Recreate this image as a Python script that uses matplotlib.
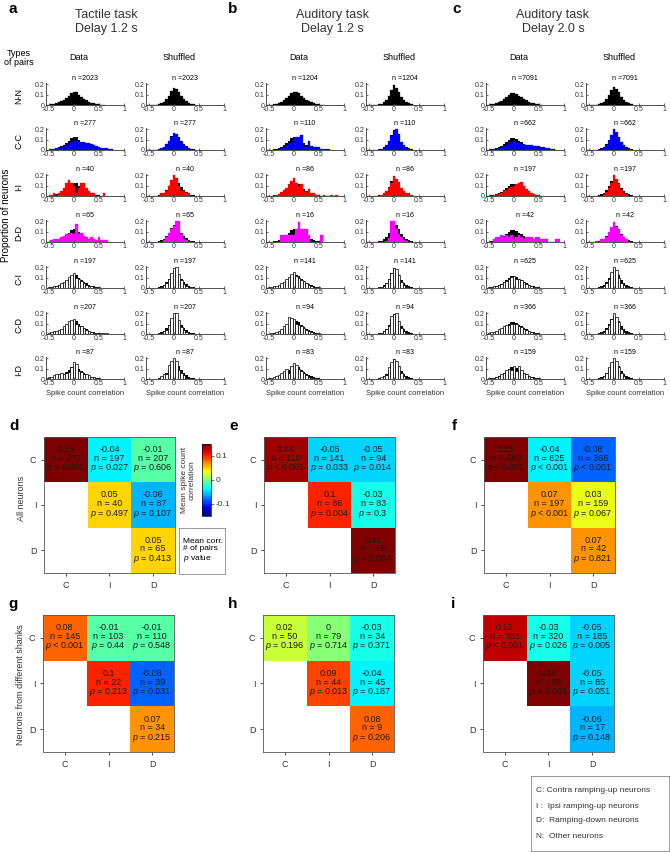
import numpy as np
import matplotlib
matplotlib.use('Agg')
import matplotlib.pyplot as plt
from matplotlib.colors import LinearSegmentedColormap

plt.rcParams['font.family'] = ['Liberation Sans', 'DejaVu Sans']
plt.rcParams['mathtext.fontset'] = 'custom'
plt.rcParams['mathtext.it'] = 'Liberation Sans:italic'
plt.rcParams['mathtext.rm'] = 'Liberation Sans'

# ---- data -------------------------------------------------------------
# histogram bins (width 0.05), first entry of every list = bin centred at -0.55
bins = np.linspace(-0.55, 1.0, 32)
pair_types = ['N-N', 'C-C', 'I-I', 'D-D', 'C-I', 'C-D', 'I-D']
pair_colors = ['k', '#0000ff', '#ff0000', '#ff00ff', 'w', 'w', 'w']

# proportion of pairs in % (rows = pair_types)
tactile_data = [
    [0, .3, .5, 1, 1.5, 2.5, 3.5, 5, 7, 9, 11, 12.5, 12, 10, 8, 6, 4.5, 3, 2, 1.5, 1, .5, .3, .2],
    [0, .3, .5, 1, 1.5, 2, 3, 4, 5, 6.5, 8, 9, 9, 7.5, 7.5, 7.5, 7, 6.5, 6, 5, 4, 3, 2, 1.5, 1.5, 1, .5],
    [0, 0, 1, 2.5, 0, 2.5, 5, 7.5, 12.5, 15, 12.5, 10, 2.5, 7.5, 12.5, 12.5, 7.5, 5, 2.5, 2.5, 0, 0, 0, 2.5],
    [0, 0, 1.5, 3, 3, 3, 4.5, 6, 7.5, 7.5, 9, 7.5, 17, 7.5, 9, 6, 4.5, 3, 4.5, 3, 1.5, 4.5, 1.5, 1.5, 1.5],
    [0, .5, 1, 1.5, 2, 3, 4.5, 6, 8, 10.5, 12.5, 14, 10, 9, 7, 5, 3, 2, 1.5, 1, .5, .5, .3, .3],
    [0, 1, 2, 2.5, 3, 4, 5, 7.5, 10, 12, 13.5, 14.5, 10, 7.5, 8, 6, 4, 2.5, 1.5, 1, 1, .5, .5, .5, .5],
    [1, 2, 2, 3.5, 4.5, 4.5, 5.5, 4.5, 6, 7, 11.5, 16, 14, 8, 6.5, 5, 4.5, 3.5, 2, 2, 1, 1],
]
tactile_shuffled = [
    [0, 0, 0, 0, 0, .5, 1.5, 3, 5.5, 9, 13, 16, 15, 12, 8.5, 6, 3.5, 2, 1, .5],
    [0, 0, 0, 0, 0, .5, 1.5, 3, 5.5, 9, 12, 16, 15, 11, 8, 5, 3, 1.5, .5],
    [0, 0, 0, 0, 0, 0, 2.5, 2.5, 5, 10, 15, 20, 17.5, 10, 5, 5, 2.5, 2.5],
    [0, 0, 0, 0, 0, 0, 0, 1.5, 4.5, 9, 12, 15, 20, 20, 7.5, 3, 1.5],
    [0, 0, 0, 0, 0, 0, 1, 2.5, 5, 9, 14, 19, 20, 13, 8, 4, 2, 1, .5],
    [0, 0, 0, 0, 0, .5, 1, 3, 4, 9, 15, 20, 20, 13, 7, 3.5, 1.5, .5],
    [0, 0, 0, 0, 0, 1, 2.5, 4.5, 4.5, 13, 17, 20, 17, 9, 6, 3.5, 1, .5],
]
tactile_n = [2023, 277, 40, 65, 197, 207, 87]

aud12_data = [
    [0, 0, .3, .5, 1, 2, 3, 4.5, 6.5, 9, 11, 12, 12, 11, 9, 7, 5, 3.5, 2.5, 1.5, 1, .5, .3, .2],
    [0, 0, 0, 0, 0, 1, 2, 3, 4.5, 6.5, 7, 11, 12, 12, 14, 3, 3, 9, 3.5, 3, 3, 3, 1, 1, 1, 1],
    [0, 0, 0, 0, 1, 2, 3.5, 6, 8, 11, 14, 17, 12, 9, 11, 5, 3.5, 7, 2.5, 2.5, 1, 1, 0, 1, 0, 0, 1, 0, 1],
    [0, 0, 0, 0, 0, 0, 6.25, 6.25, 6.25, 6.25, 6.25, 6.25, 12.5, 18.75, 12.5, 12.5, 12.5, 6.25, 0, 0, 0, 0, 6.25],
    [0, .5, 1, 1.5, 2, 3, 4.5, 6, 8.5, 10.5, 13, 15, 11, 10, 8, 6.5, 4.5, 3, 1.5, 1, .5, .5],
    [0, 0, .5, 1, 1.5, 3, 4.5, 7.5, 10, 16, 15, 14, 10, 9, 8, 5.5, 4, 2.5, 2, 1, .5, .5],
    [0, 1, 1, 1.5, 2.5, 4, 5.5, 7.5, 9.5, 6, 12, 15, 13, 9.5, 7.5, 5.5, 3.5, 2, 1, 1],
]
aud12_shuffled = [
    [0, 0, 0, 0, 0, .5, 1, 2.5, 5, 9, 14, 19, 16, 12, 8, 5, 3, 1.5, .5],
    [0, 0, 0, 0, 0, 0, 1, 2, 5, 9, 13, 18, 20, 15, 8, 5, 2, 1],
    [0, 0, 0, 0, 0, 0, 1, 2.5, 4.5, 8, 12, 19, 16, 13, 8, 4.5, 2.5, 2.5, 1],
    [0, 0, 0, 0, 0, 0, 0, 0, 1, 4, 20, 20, 12, 8, 5, 2, 1],
    [0, 0, 0, 0, 0, .5, 1, 2, 4.5, 9, 14, 19, 18, 12, 6, 3, 1],
    [0, 0, 0, 0, 0, .5, 1, 3, 5, 8, 17, 19, 20, 12, 6, 2.5, 1],
    [0, 0, 0, 0, 0, .5, 1.5, 3, 4, 11, 16, 19, 17, 12, 6, 3, 1],
]
aud12_n = [1204, 110, 86, 16, 141, 94, 83]

aud20_data = [
    [0, .3, .6, 1, 1.5, 2.5, 4, 5.5, 7.5, 9.5, 11, 11, 10.5, 9, 7.5, 6, 4.5, 3, 2, 1.5, 1, .5, .3],
    [0, 0, .3, .6, 1, 1.5, 2.5, 3.5, 5, 6.5, 7.5, 8, 7.5, 6.5, 6, 5.5, 5, 4.5, 4.5, 4, 3.5, 3.5, 3, 2.5, 2, 1.5, 1, .5],
    [0, 0, 0, .5, 1, 2, 3, 4.5, 6, 7.5, 9, 10, 11, 12, 13, 10, 7, 5, 2.5, 1.5, 1, .5],
    [0, 0, 0, 2.4, 4.8, 4.8, 7.1, 4.8, 7.1, 4.8, 7.1, 2.4, 4.8, 7.1, 4.8, 2.4, 4.8, 4.8, 4.8, 2.4, 4.8, 4.8, 2.4, 2.4, 2.4, 0, 0, 0, 2.4, 2.4],
    [.3, .5, 1, 1.5, 2, 3, 4, 5.5, 7, 9, 10.5, 11.5, 9, 8.5, 7.5, 5.5, 4, 2.5, 1.5, 1, .5, .3, .2],
    [.3, 1, 1.5, 2, 3, 4.5, 6, 7.5, 8.5, 9, 9.5, 10, 9.5, 8, 6.5, 5, 3.5, 2.5, 1.5, 1, .5, .3],
    [0, .5, .5, 1, 2, 3, 4.5, 6, 8.5, 10, 9, 12, 8, 12, 9, 6, 4.5, 3, 2, 1, .5, .5],
]
aud20_shuffled = [
    [0, 0, 0, 0, 0, .5, 1.5, 3, 6, 10, 14, 17, 15, 12, 8, 5, 3, 1.5, .5],
    [0, 0, 0, 0, 0, 0, .5, 2, 4.5, 9, 14, 20, 17, 12, 8, 5, 2.5, 1],
    [0, 0, 0, 0, 0, 0, 0, 1.5, 4, 8, 12, 20, 16, 11, 6, 3, 1.5],
    [0, 0, 0, 0, 1, 0, 2.4, 2.4, 4.8, 9.5, 14, 19, 14, 12, 7, 4.8, 2.4],
    [0, 0, 0, 0, 0, 0, .5, 2, 4.5, 9, 15, 20, 17, 10, 5, 2.5, 1],
    [0, 0, 0, 0, 0, 0, .5, 2, 4.5, 9, 14, 20, 16, 11, 5, 2, .5],
    [0, 0, 0, 0, 0, 0, 1, 3, 6, 11, 16, 20, 17, 11, 6, 3, 1],
]
aud20_n = [7091, 662, 197, 42, 625, 366, 159]

# mean correlation matrices (upper triangle: C, I, D)
groups = ['C', 'I', 'D']
d_corr = [[0.15, -0.04, -0.01], [None, 0.05, -0.06], [None, None, 0.05]]
d_pairs = [[277, 197, 207], [None, 40, 87], [None, None, 65]]
d_p = [['< 0.001', '= 0.027', '= 0.606'], [None, '= 0.497', '= 0.107'], [None, None, '= 0.413']]
e_corr = [[0.14, -0.05, -0.05], [None, 0.1, -0.03], [None, None, 0.17]]
e_pairs = [[110, 141, 94], [None, 86, 83], [None, None, 16]]
e_p = [['< 0.001', '= 0.033', '= 0.014'], [None, '= 0.004', '= 0.3'], [None, None, '= 0.004']]
f_corr = [[0.16, -0.04, -0.08], [None, 0.07, 0.03], [None, None, 0.07]]
f_pairs = [[662, 625, 366], [None, 197, 159], [None, None, 42]]
f_p = [['< 0.001', '< 0.001', '< 0.001'], [None, '< 0.001', '= 0.067'], [None, None, '= 0.821']]
g_corr = [[0.08, -0.01, -0.01], [None, 0.1, -0.08], [None, None, 0.07]]
g_pairs = [[145, 103, 110], [None, 22, 39], [None, None, 34]]
g_p = [['< 0.001', '= 0.44', '= 0.548'], [None, '= 0.213', '= 0.031'], [None, None, '= 0.215']]
h_corr = [[0.02, 0, -0.03], [None, 0.09, -0.04], [None, None, 0.08]]
h_pairs = [[50, 79, 34], [None, 44, 45], [None, None, 9]]
h_p = [['= 0.196', '= 0.714', '= 0.371'], [None, '= 0.013', '= 0.187'], [None, None, '= 0.206']]
i_corr = [[0.13, -0.03, -0.05], [None, 0.18, -0.05], [None, None, -0.06]]
i_pairs = [[351, 320, 185], [None, 98, 85], [None, None, 17]]
i_p = [['< 0.001', '= 0.026', '= 0.005'], [None, '< 0.001', '= 0.051'], [None, None, '= 0.148']]

# ---- figure -----------------------------------------------------------
W, H = 670, 852
fig = plt.figure(figsize=(W / 100, H / 100), dpi=100)


def px_axes(x0, y0, x1, y1):
    return fig.add_axes([x0 / W, 1 - y1 / H, (x1 - x0) / W, (y1 - y0) / H])


def ftext(x, y, s, **kw):
    return fig.text(x / W, 1 - y / H, s, **kw)


def hist_panel(ax, vals, back, color, n):
    if back is not None:
        ax.bar(bins[:len(back)], np.array(back) / 100, width=0.05, color='k', linewidth=0)
    if color == 'w':
        ax.bar(bins[:len(vals)], np.array(vals) / 100, width=0.05,
               facecolor='w', edgecolor='k', linewidth=0.5)
    else:
        ax.bar(bins[:len(vals)], np.array(vals) / 100, width=0.05,
               color=color, edgecolor=color, linewidth=0.2)
    ax.set_xlim(-0.56, 1.0)
    ax.set_ylim(0, 0.21)
    ax.set_xticks([-0.5, 0, 0.5, 1])
    ax.set_xticklabels(['-0.5', '0', '0.5', '1'])
    ax.set_yticks([0, 0.1, 0.2])
    ax.set_yticklabels(['0', '0.1', '0.2'])
    ax.tick_params(labelsize=5, length=1.5, width=0.5, pad=1, direction='in', colors='#333333')
    for s in ['top', 'right']:
        ax.spines[s].set_visible(False)
    for s in ['left', 'bottom']:
        ax.spines[s].set_linewidth(0.6)
        ax.spines[s].set_color('#333333')
    ax.set_title(f'n ={n}', fontsize=5, pad=2)


tasks = [
    ('a', 'Tactile task\nDelay 1.2 s', 106, tactile_data, tactile_shuffled, tactile_n, 74),
    ('b', 'Auditory task\nDelay 1.2 s', 332, aud12_data, aud12_shuffled, aud12_n, 294),
    ('c', 'Auditory task\nDelay 2.0 s', 553, aud20_data, aud20_shuffled, aud20_n, 514),
]
letter_x = {'a': 13, 'b': 233, 'c': 457}
baselines = [105, 150, 196, 242, 288, 334, 379]

for letter, title, tx, data, shuf, ns, z0 in tasks:
    ftext(letter_x[letter], 9, letter, fontsize=11, fontweight='bold', ha='center', va='center')
    ftext(tx, 22, title, fontsize=9, ha='center', va='center', color='#333333', linespacing=1.3)
    for col, (hists, zero) in enumerate([(data, z0), (shuf, z0 + 100)]):
        ftext(zero + 5, 57, 'Data' if col == 0 else 'Shuffled', fontsize=6.5, ha='center', va='center')
        for r, b in enumerate(baselines):
            ax = px_axes(zero - 28, b - 22, zero + 50, b)
            back = None if r == 0 else hists[0]
            hist_panel(ax, hists[r], back, pair_colors[r], ns[r])
            if r == len(baselines) - 1:
                ax.set_xlabel('Spike count correlation', fontsize=5.5, labelpad=2, color='#333333')

ftext(19, 58, 'Types\nof pairs', fontsize=6.5, ha='center', va='center', linespacing=1.1)
for r, b in enumerate(baselines):
    ftext(19, b - 9, pair_types[r], fontsize=6.5, rotation=90, ha='center', va='center')
ftext(6, 215, 'Proportion of neurons', fontsize=7, rotation=90, ha='center', va='center')

# ---- heat maps ----------------------------------------------------------
# MATLAB style jet
cmap = LinearSegmentedColormap('mjet', {
    'red': [(0, 0, 0), (0.375, 0, 0), (0.625, 1, 1), (0.875, 1, 1), (1, 0.5, 0.5)],
    'green': [(0, 0, 0), (0.125, 0, 0), (0.375, 1, 1), (0.625, 1, 1), (0.875, 0, 0), (1, 0, 0)],
    'blue': [(0, 0.5, 0.5), (0.125, 1, 1), (0.375, 1, 1), (0.625, 0, 0), (1, 0, 0)],
}, N=64)
cmap.set_bad('white')


def heat_panel(ax, corr, pairs, pvals):
    m = np.array([[np.nan if v is None else v for v in row] for row in corr], dtype=float)
    im = ax.imshow(np.ma.masked_invalid(m), cmap=cmap, vmin=-0.15, vmax=0.15,
                   aspect='auto', interpolation='nearest')
    for i in range(3):
        for j in range(3):
            if corr[i][j] is None:
                continue
            ax.text(j, i, f'{corr[i][j]:g}\nn = {pairs[i][j]}\n$p$ {pvals[i][j]}',
                    ha='center', va='center', fontsize=6.5, color='#1a1a1a', linespacing=0.95)
    ax.set_xticks(range(3))
    ax.set_xticklabels(groups)
    ax.set_yticks(range(3))
    ax.set_yticklabels(groups)
    ax.tick_params(labelsize=6.5, length=2.5, width=0.6, pad=3, colors='#333333')
    for s in ax.spines.values():
        s.set_linewidth(0.6)
        s.set_color('#555555')
    return im


heat_panels = [
    ('d', d_corr, d_pairs, d_p, 44, 437, 573),
    ('e', e_corr, e_pairs, e_p, 264, 437, 573),
    ('f', f_corr, f_pairs, f_p, 484, 437, 573),
    ('g', g_corr, g_pairs, g_p, 43, 615, 752),
    ('h', h_corr, h_pairs, h_p, 263, 615, 752),
    ('i', i_corr, i_pairs, i_p, 483, 615, 752),
]
for letter, corr, pairs, pvals, x0, y0, y1 in heat_panels:
    ax = px_axes(x0, y0, x0 + 131, y1)
    im = heat_panel(ax, corr, pairs, pvals)
    ftext(x0 - 30, y0 - 11, letter, fontsize=11, fontweight='bold', ha='center', va='center')
    if letter == 'd':
        im_d = im

ftext(21, 498, 'All neurons', fontsize=6.5, rotation=90, ha='center', va='center', color='#333333')
ftext(21, 685, 'Neurons from different shanks', fontsize=6.5, rotation=90, ha='center',
      va='center', color='#333333')

# colour bar
cax = px_axes(202, 444, 211, 516)
cb = fig.colorbar(im_d, cax=cax, ticks=[-0.1, 0, 0.1])
cb.ax.set_yticklabels(['-0.1', '0', '0.1'])
cb.ax.tick_params(labelsize=6, length=2, width=0.5, pad=1, colors='#333333')
cb.outline.set_linewidth(0.5)
ftext(188, 480, 'Mean spike count\ncorrelation', fontsize=6, rotation=90, ha='center',
      va='center', color='#333333', linespacing=1.1)

# legend box for cell text
lax = px_axes(179, 528, 225, 574)
lax.set_xticks([])
lax.set_yticks([])
for s in lax.spines.values():
    s.set_linewidth(0.6)
    s.set_color('#888888')
lax.text(0.08, 0.5, 'Mean corr.\n# of pairs\n$p$ value', transform=lax.transAxes,
         fontsize=6, ha='left', va='center', linespacing=1.15)

# abbreviation box
kax = px_axes(531, 776, 669, 851)
kax.set_xticks([])
kax.set_yticks([])
for s in kax.spines.values():
    s.set_linewidth(0.6)
    s.set_color('#888888')
abbrev = ['C: Contra ramping-up neurons', 'I :  Ipsi ramping-up neurons',
          'D:  Ramping-down neurons', 'N:  Other neurons']
for k, line in enumerate(abbrev):
    ftext(536, 791 + 15 * k, line, fontsize=6, ha='left', va='center', color='#333333')

fig.savefig('out.png', dpi=100)
plt.close(fig)
